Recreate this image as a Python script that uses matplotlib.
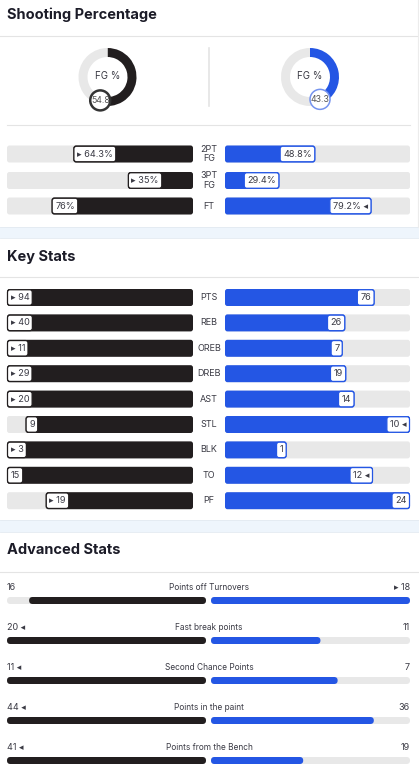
import matplotlib
matplotlib.use('Agg')
import matplotlib.pyplot as plt
from matplotlib.patches import FancyBboxPatch, Rectangle, Circle
import numpy as np

W, H = 419, 779
DARK = '#221e1f'
BLUE = '#2456e4'
TRACK = '#e8e8e8'
BAND = '#eef5fc'
TXT = '#1c1c28'
LAB = '#3a3a44'
FONT = ['Inter', 'DejaVu Sans']

# ---- data ----
fg_pct = [54.8, 43.3]

shoot_labels = ['2PT\nFG', '3PT\nFG', 'FT']
shoot_home = [64.3, 35.0, 76.0]
shoot_away = [48.8, 29.4, 79.2]

key_labels = ['PTS', 'REB', 'OREB', 'DREB', 'AST', 'STL', 'BLK', 'TO', 'PF']
key_home = [94, 40, 11, 29, 20, 9, 3, 15, 19]
key_away = [76, 26, 7, 19, 14, 10, 1, 12, 24]
lower_better = ['TO', 'PF']

adv_labels = ['Points off Turnovers', 'Fast break points', 'Second Chance Points',
              'Points in the paint', 'Points from the Bench']
adv_home = [16, 20, 11, 44, 41]
adv_away = [18, 11, 7, 36, 19]

fig = plt.figure(figsize=(W / 100, H / 100), dpi=100)
ax = fig.add_axes([0, 0, 1, 1])
ax.set_xlim(0, W)
ax.set_ylim(H, 0)
ax.axis('off')
renderer = fig.canvas.get_renderer()


def rbox(x, y, w, h, color, r=2.5, ec='none', lw=0, z=2):
    if w <= 0:
        return
    r = min(r, w / 2, h / 2)
    p = FancyBboxPatch((x + r, y + r), w - 2 * r, h - 2 * r,
                       boxstyle=f'round,pad={r}', fc=color, ec=ec, lw=lw, zorder=z)
    ax.add_patch(p)


def value_tag(x, y, s, color, side):
    # white rounded tag sitting at the end of a bar
    t = ax.text(0, y, s, fontsize=6.6, color='#3a3a44', va='center', ha='center',
                family=FONT, zorder=6)
    tw = t.get_window_extent(renderer).width
    bw = tw + 7
    bh = 15.5
    bx = x if side == 'left' else x - bw
    rbox(bx + 0.5, y - bh / 2, bw - 1, bh, 'white', r=2.5, ec=color, lw=0.9, z=5)
    t.set_x(bx + bw / 2)


def bar_row(yc, hv, av, hs, as_, hwin, awin, scale, label):
    h = 17
    lx0, lx1 = 7, 193
    rx0, rx1 = 225, 410
    y0 = yc - h / 2
    rbox(lx0, y0, lx1 - lx0, h, TRACK, z=1)
    rbox(rx0, y0, rx1 - rx0, h, TRACK, z=1)
    lw_ = (lx1 - lx0) * hv / scale[0]
    rw_ = (rx1 - rx0) * av / scale[1]
    rbox(lx1 - lw_, y0, lw_, h, DARK)
    rbox(rx0, y0, rw_, h, BLUE)
    value_tag(lx1 - lw_, yc, ('\u25b8 ' if hwin else '') + hs, DARK, 'left')
    value_tag(rx0 + rw_, yc, as_ + (' \u25c2' if awin else ''), BLUE, 'right')
    ax.text(209, yc, label, ha='center', va='center', fontsize=6.5, color=LAB,
            family=FONT, linespacing=1.05)


def section_title(y, s):
    ax.text(7, y, s, ha='left', va='center', fontsize=10.5, fontweight='bold',
            color=TXT, family=FONT)


def band(y0, y1):
    ax.add_patch(Rectangle((0, y0), W, y1 - y0, fc=BAND, ec='none', zorder=0))
    ax.plot([0, W], [y0, y0], color='#e3eaf1', lw=0.6)
    ax.plot([0, W], [y1, y1], color='#e3eaf1', lw=0.6)


# ---- shooting percentage ----
section_title(15, 'Shooting Percentage')
ax.plot([0, W], [36, 36], color='#e4e4e4', lw=0.8)
ax.plot([209, 209], [48, 106], color='#e4e4e4', lw=1.2)
ax.plot([7, 410], [125, 125], color='#e4e4e4', lw=0.8)

donut_cx = [107.5, 310]
donut_cy = 77
R = 29
lim = 1.45
colors = [DARK, BLUE]
rings = ['#333333', '#7593ee']
for i, v in enumerate(fg_pct):
    size = 2 * lim * R
    dax = fig.add_axes([(donut_cx[i] - size / 2) / W, (H - donut_cy - size / 2) / H,
                        size / W, size / H])
    dax.pie([v, 100 - v], colors=[colors[i], TRACK], startangle=90, counterclock=False,
            wedgeprops=dict(width=9 / R, linewidth=0))
    dax.set_xlim(-lim, lim)
    dax.set_ylim(-lim, lim)
    dax.set_aspect('equal')
    dax.axis('off')
    dax.text(0, 0.03, 'FG %', ha='center', va='center', fontsize=7, color=LAB, family=FONT)
    ang = np.deg2rad(90 - 360 * v / 100)
    rm = 1 - 4.5 / R
    mx, my = rm * np.cos(ang), rm * np.sin(ang)
    dax.add_patch(Circle((mx, my), 10 / R, fc='white', ec=rings[i],
                         lw=1.8 if i == 0 else 1.1, zorder=5, clip_on=False))
    dax.text(mx, my, f'{v:g}', ha='center', va='center', fontsize=6.3, color='#555555',
             family=FONT, zorder=6, clip_on=False)

shoot_y = [154, 180.5, 206]
for i, lab in enumerate(shoot_labels):
    hv, av = shoot_home[i], shoot_away[i]
    bar_row(shoot_y[i], hv, av, f'{hv:g}%', f'{av:g}%', hv > av, av > hv, (100, 100), lab)

band(227, 238)

# ---- key stats ----
section_title(257, 'Key Stats')
ax.plot([0, W], [277, 277], color='#e4e4e4', lw=0.8)
key_y = [297.5 + 25.4 * i for i in range(len(key_labels))]
for i, lab in enumerate(key_labels):
    hv, av = key_home[i], key_away[i]
    m = max(hv, av)
    if lab in lower_better:
        hwin, awin = hv < av, av < hv
    else:
        hwin, awin = hv > av, av > hv
    bar_row(key_y[i], hv, av, str(hv), str(av), hwin, awin, (m, m), lab)

band(520, 532)

# ---- advanced stats ----
section_title(550, 'Advanced Stats')
ax.plot([0, W], [572, 572], color='#e4e4e4', lw=0.8)
for i, lab in enumerate(adv_labels):
    hv, av = adv_home[i], adv_away[i]
    m = max(hv, av)
    ty = 587.5 + 40 * i
    by = 600.5 + 40 * i
    hs = f'{hv} \u25c2' if hv > av else f'{hv}'
    as_ = f'\u25b8 {av}' if av > hv else f'{av}'
    ax.text(7, ty, hs, ha='left', va='center', fontsize=6.5, color=LAB, family=FONT)
    ax.text(410, ty, as_, ha='right', va='center', fontsize=6.5, color=LAB, family=FONT)
    ax.text(209, ty, lab, ha='center', va='center', fontsize=6.0, color=LAB, family=FONT)
    bh = 7
    lx0, lx1 = 7, 206
    rx0, rx1 = 211, 410
    rbox(lx0, by - bh / 2, lx1 - lx0, bh, TRACK, r=3.5, z=1)
    rbox(rx0, by - bh / 2, rx1 - rx0, bh, TRACK, r=3.5, z=1)
    lw_ = (lx1 - lx0) * hv / m
    rw_ = (rx1 - rx0) * av / m
    rbox(lx1 - lw_, by - bh / 2, lw_, bh, DARK, r=3.5)
    rbox(rx0, by - bh / 2, rw_, bh, BLUE, r=3.5)

ax.plot([418, 418], [0, 227], color='#ececec', lw=0.8)

fig.savefig('out.png', dpi=100, facecolor='white')
